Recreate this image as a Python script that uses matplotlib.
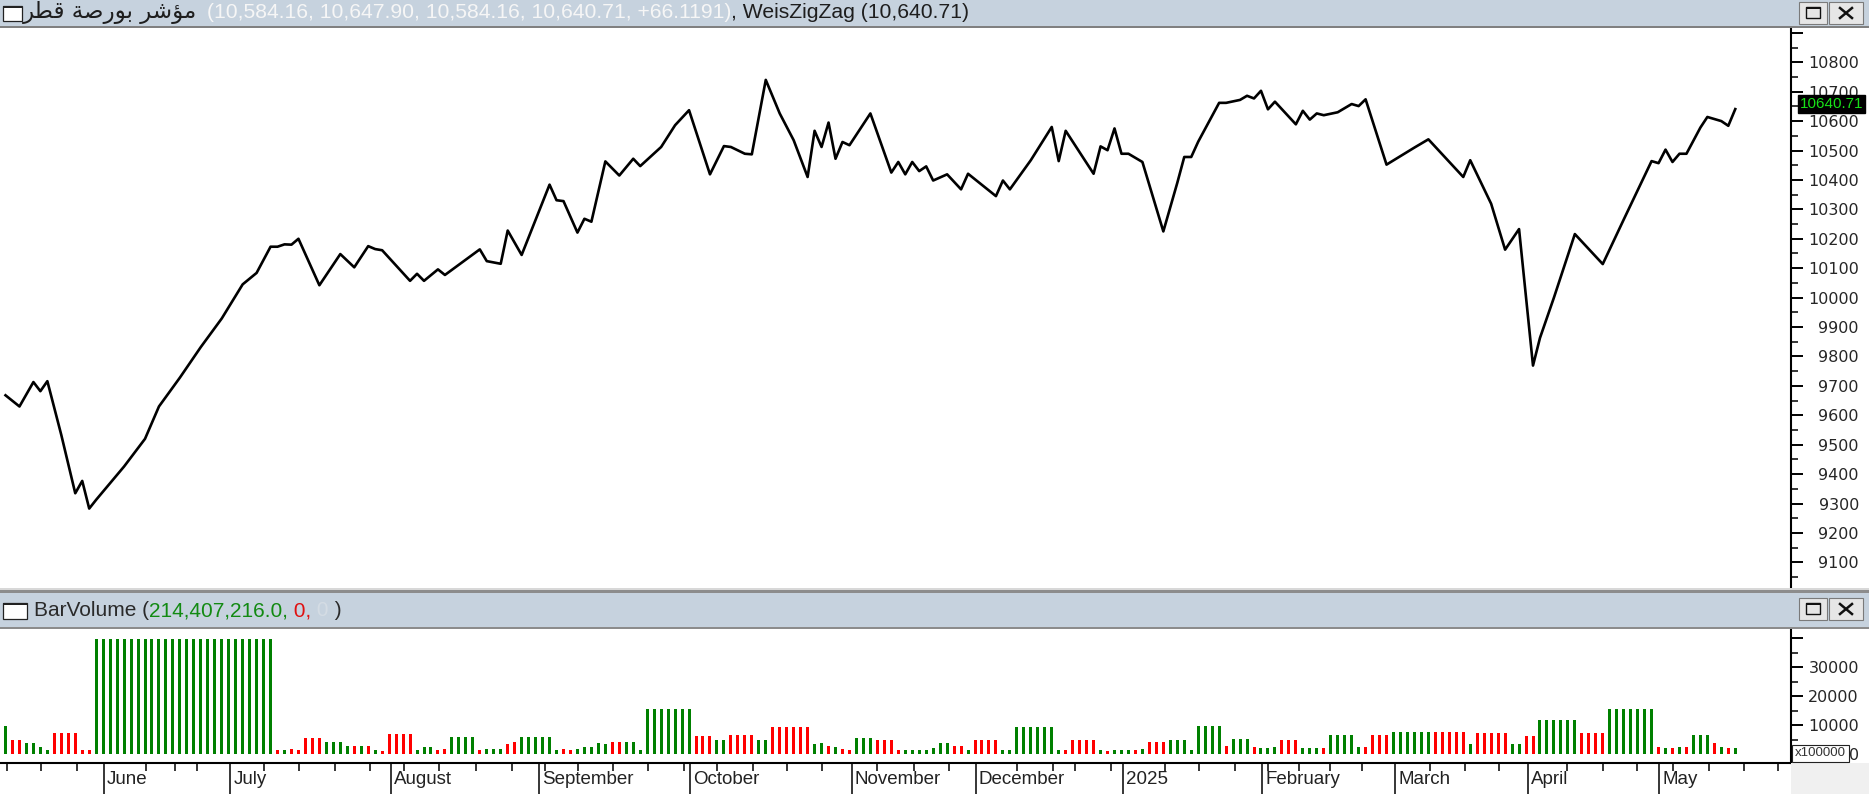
import numpy as np
import matplotlib
matplotlib.use('Agg')
import matplotlib.pyplot as plt
from matplotlib.patches import Rectangle
from matplotlib.lines import Line2D
from matplotlib.ticker import MultipleLocator, FixedLocator
from matplotlib import font_manager

# ---- data -------------------------------------------------------------
# WeisZigZag swing points: bar number and index level
zz_bar = [0, 2, 4, 5, 6, 8, 10, 11, 12, 13, 17, 20, 22, 25, 28, 31, 34, 36, 38, 39,
          40, 41, 42, 45, 48, 50, 52, 53, 54, 58, 59, 60, 62, 63, 68, 69, 71, 72, 74, 78,
          79, 80, 82, 83, 84, 86, 88, 90, 91, 94, 96, 98, 101, 103, 104, 106, 107, 109, 111, 113,
          115, 116, 117, 118, 119, 120, 121, 124, 127, 128, 129, 130, 131, 132, 133, 135, 137, 138, 142, 143,
          144, 147, 150, 151, 152, 156, 157, 158, 159, 160, 161, 163, 166, 168, 169, 170, 171, 174, 175, 177,
          178, 179, 180, 181, 182, 185, 186, 187, 188, 189, 191, 193, 194, 195, 198, 202, 204, 209, 210, 213,
          215, 217, 219, 220, 222, 225, 229, 232, 236, 237, 238, 239, 240, 241, 243, 244, 246, 247, 248]
zz_val = [9668, 9630, 9713, 9682, 9716, 9533, 9335, 9377, 9283, 9313, 9426, 9520, 9630, 9728, 9832, 9929, 10045, 10084, 10173, 10173,
          10181, 10180, 10200, 10042, 10148, 10103, 10175, 10165, 10161, 10057, 10081, 10057, 10096, 10077, 10164, 10124, 10115, 10228, 10145, 10384,
          10331, 10328, 10221, 10268, 10258, 10463, 10415, 10472, 10447, 10512, 10586, 10637, 10419, 10515, 10512, 10489, 10487, 10740, 10626, 10535,
          10410, 10567, 10512, 10595, 10472, 10529, 10518, 10626, 10425, 10461, 10419, 10461, 10430, 10446, 10398, 10419, 10368, 10421, 10345, 10398,
          10368, 10467, 10580, 10464, 10567, 10421, 10514, 10501, 10575, 10489, 10489, 10461, 10225, 10390, 10478, 10478, 10530, 10662, 10662, 10672,
          10686, 10677, 10703, 10640, 10666, 10589, 10635, 10605, 10626, 10620, 10630, 10658, 10651, 10674, 10452, 10510, 10538, 10410, 10467, 10319,
          10163, 10233, 9769, 9863, 10000, 10216, 10114, 10265, 10464, 10457, 10503, 10461, 10489, 10489, 10578, 10614, 10600, 10584, 10640.71]

# BarVolume: runs of equal bars (number of bars, height in x100000, 1 = up wave)
vol_run = [1, 2, 2, 1, 1, 4, 2, 26, 1, 1, 1, 1, 3, 3, 1, 1, 1, 1, 1, 1,
           4, 1, 2, 1, 1, 4, 1, 3, 1, 1, 5, 1, 1, 1, 1, 1, 1, 1, 1, 2,
           2, 1, 7, 3, 2, 4, 2, 6, 1, 1, 1, 1, 1, 1, 3, 3, 1, 4, 1, 2,
           2, 1, 4, 2, 6, 1, 1, 4, 1, 1, 3, 1, 1, 3, 3, 1, 4, 1, 3, 1,
           2, 1, 3, 3, 1, 4, 1, 1, 3, 6, 5, 1, 5, 2, 2, 6, 4, 7, 1, 1,
           1, 1, 1, 3, 1, 1, 1, 1]
vol_height = [9750, 5000, 4000, 2600, 1500, 7200, 1400, 39800, 1500, 1500, 1800, 1500, 5600, 4200, 3000, 2800, 3000, 2800, 1500, 1200,
              7000, 1500, 2500, 1500, 1800, 6000, 1500, 1800, 3500, 4300, 6000, 1500, 1800, 1500, 1800, 2500, 2500, 3800, 3500, 4300,
              4300, 1500, 15600, 6200, 4800, 6700, 4800, 9300, 3400, 3800, 2700, 2500, 1800, 1500, 5600, 5100, 1500, 1500, 2000, 3800,
              2700, 1500, 4800, 1500, 9300, 1500, 1500, 5000, 1500, 1300, 1500, 1500, 1800, 4200, 4900, 1500, 9800, 2700, 5300, 2500,
              2000, 2600, 5000, 2000, 2000, 6800, 2600, 2600, 6600, 7800, 7800, 3400, 7200, 3400, 6200, 11800, 7200, 15600, 2600, 2000,
              2000, 2600, 2600, 6800, 3800, 2600, 2300, 2144]
vol_up = [1, 0, 1, 1, 1, 0, 0, 1, 0, 1, 0, 0, 0, 1, 1, 0, 1, 0, 1, 0,
          0, 1, 1, 0, 0, 1, 0, 1, 0, 0, 1, 1, 0, 0, 1, 1, 1, 1, 1, 0,
          1, 1, 1, 0, 1, 0, 1, 0, 1, 1, 0, 1, 0, 0, 1, 0, 0, 1, 1, 1,
          0, 1, 0, 1, 1, 1, 0, 0, 1, 0, 1, 0, 1, 0, 1, 1, 1, 0, 1, 0,
          1, 1, 0, 1, 0, 1, 1, 0, 0, 1, 0, 1, 0, 1, 0, 1, 0, 1, 0, 1,
          0, 1, 0, 1, 0, 1, 0, 1]

month_bar = [14.1, 32.2, 55.2, 76.5, 98.2, 121.3, 139.1, 160.2, 180.2, 199.2, 218.3, 237.1]
month_name = ['June', 'July', 'August', 'September', 'October', 'November',
              'December', '2025', 'February', 'March', 'April', 'May']
week_bar = [0.2, 5.1, 10.3, 20.1, 24.3, 27.4, 37.1, 42.1, 47.3, 52.3, 57.1, 62.2, 67.4, 72.6,
            77.3, 82.1, 87.1, 92.1, 97.3, 102, 107.2, 112.1, 117.1, 125, 130.2, 135.2, 145,
            150.2, 153.3, 158.5, 166.2, 171.1, 176.3, 181, 185.4, 189.9, 194.5, 204.3, 209.2,
            214.1, 223.9, 229.1, 233.9, 239.1, 244.3, 249.2, 254.1]

title_ar = 'مؤشر بورصة قطر'
ohlc_text = '(10,584.16, 10,647.90, 10,584.16, 10,640.71, +66.1191)'
zz_text = ', WeisZigZag (10,640.71)'
vol_parts = [('BarVolume (', '#2a2a2a'), ('214,407,216.0,', '#128a12'),
             (' 0,', '#e01010'), (' 0', '#d4dce4'), (' )', '#2a2a2a')]
last_close = 10640.71

# ---- arabic: matplotlib does no shaping, so pick presentation forms ---
AR_FORMS = {
    'م': ('\uFEE1', '\uFEE2', '\uFEE3', '\uFEE4'),
    'ؤ': ('\uFE85', '\uFE86', None, None),
    'ش': ('\uFEB5', '\uFEB6', '\uFEB7', '\uFEB8'),
    'ر': ('\uFEAD', '\uFEAE', None, None),
    'ب': ('\uFE8F', '\uFE90', '\uFE91', '\uFE92'),
    'و': ('\uFEED', '\uFEEE', None, None),
    'ص': ('\uFEB9', '\uFEBA', '\uFEBB', '\uFEBC'),
    'ة': ('\uFE93', '\uFE94', None, None),
    'ق': ('\uFED5', '\uFED6', '\uFED7', '\uFED8'),
    'ط': ('\uFEC1', '\uFEC2', '\uFEC3', '\uFEC4'),
}


def shape_arabic(s):
    out = []
    for i, c in enumerate(s):
        if c not in AR_FORMS:
            out.append(c)
            continue
        iso, fin, ini, med = AR_FORMS[c]
        prev = s[i - 1] if i > 0 else ''
        nxt = s[i + 1] if i + 1 < len(s) else ''
        jp = prev in AR_FORMS and AR_FORMS[prev][2] is not None
        jn = nxt in AR_FORMS and ini is not None
        if jp and jn:
            out.append(med)
        elif jp:
            out.append(fin)
        elif jn:
            out.append(ini)
        else:
            out.append(iso)
    return ''.join(out)[::-1]


# ---- figure ------------------------------------------------------------
W, H = 1869, 794
HDR = '#c6d2de'
SANS = 'Liberation Sans'
names = {f.name for f in font_manager.fontManager.ttflist}
NARROW = 'Liberation Sans Narrow' if 'Liberation Sans Narrow' in names else SANS

plt.rcParams['font.family'] = 'DejaVu Sans'
fig = plt.figure(figsize=(W / 100, H / 100), dpi=100, facecolor='white')
renderer = fig.canvas.get_renderer()


def box(x0, y0, x1, y1, fc, ec='none', lw=0.0):
    fig.add_artist(Rectangle((x0 / W, 1 - y1 / H), (x1 - x0) / W, (y1 - y0) / H,
                             transform=fig.transFigure, fc=fc, ec=ec, lw=lw))


def seg(x0, y0, x1, y1, color, lw):
    fig.add_artist(Line2D([x0 / W, x1 / W], [1 - y0 / H, 1 - y1 / H],
                          transform=fig.transFigure, color=color, lw=lw))


def ftext(x, y, s, **kw):
    return fig.text(x / W, 1 - y / H, s, **kw)


def chain(x, y, parts, **kw):
    for s, col in parts:
        t = ftext(x, y, s, color=col, ha='left', va='center', **kw)
        x = t.get_window_extent(renderer).x1
    return x


def buttons(top):
    box(1799, top, 1827, top + 22, '#e6e6e6', '#7a7a7a', 0.8)
    box(1829, top, 1863, top + 22, '#e6e6e6', '#7a7a7a', 0.8)
    box(1806, top + 5, 1820, top + 16, 'none', '#111111', 1.0)
    box(1806, top + 5, 1820, top + 7, '#111111')
    seg(1840, top + 6, 1852, top + 16, '#111111', 1.8)
    seg(1840, top + 16, 1852, top + 6, '#111111', 1.8)


def checkbox(x0, y0, x1, y1):
    box(x0, y0, x1, y1, 'white', '#222222', 0.9)
    box(x0, y0, x1, y0 + 2, '#222222')


# window chrome
box(0, 0, W, 26, HDR)
box(0, 26, W, 28, '#808080')
box(0, 588, W, 590, '#d8d8d8')
box(0, 590, W, 593, '#8c8c8c')
box(0, 593, W, 627, HDR)
box(0, 627, W, 629, '#8c8c8c')
box(1791, 763, W, H, '#f0f0f0')
buttons(2)
buttons(598)
checkbox(3, 6, 22, 21)
checkbox(3, 603, 27, 619)

ftext(23, 13, shape_arabic(title_ar), color='#1e1e1e', fontsize=16.5,
      family=['DejaVu Sans'], ha='left', va='center')
chain(207, 13, [(ohlc_text, '#f6f6f6'), (zz_text, '#1e1e1e')], fontsize=15.2, family=SANS)
chain(34, 611, vol_parts, fontsize=15, family=SANS)

# ---- price panel -------------------------------------------------------
XL, XR = -0.79, 255.99
axp = fig.add_axes([0, 1 - 588 / H, 1791 / W, (588 - 29) / H])
axp.plot(zz_bar, zz_val, color='black', lw=1.9)
axp.set_xlim(XL, XR)
axp.set_ylim(9013, 10913)
for s in ['left', 'top', 'bottom']:
    axp.spines[s].set_visible(False)
axp.spines['right'].set_linewidth(1.5)
axp.tick_params(axis='x', bottom=False, labelbottom=False)
axp.yaxis.tick_right()
price_ticks = np.arange(9100, 10901, 100)
axp.set_yticks(price_ticks)
axp.set_yticklabels([str(v) if v <= 10800 else '' for v in price_ticks])
axp.yaxis.set_minor_locator(MultipleLocator(50))
axp.tick_params(axis='y', which='major', length=8.6, width=1.4, pad=40.3,
                labelsize=11.5, labelcolor='#262626')
axp.tick_params(axis='y', which='minor', length=5, width=1.1)
for t in axp.get_yticklabels():
    t.set_ha('right')

axp.annotate(f'{last_close:.2f}', xy=(1, last_close), xycoords=('axes fraction', 'data'),
             xytext=(9, 5), textcoords='offset pixels', ha='left', va='center',
             color='#18e018', fontsize=13 if NARROW != SANS else 11, family=NARROW,
             bbox=dict(boxstyle='square,pad=0.12', fc='black', ec='black'),
             annotation_clip=False, zorder=10)

# ---- volume panel ------------------------------------------------------
vol = np.repeat(vol_height, vol_run)
up = np.repeat(vol_up, vol_run)
bars = np.arange(len(vol))
axv = fig.add_axes([0, 1 - 763 / H, 1791 / W, (763 - 629) / H])
axv.bar(bars, vol, width=0.43, color=np.where(up == 1, '#008000', '#ff0000'),
        linewidth=0, antialiased=False)
axv.set_xlim(XL, XR)
axv.set_ylim(-3000, 43200)
for s in ['left', 'top']:
    axv.spines[s].set_visible(False)
axv.spines['right'].set_linewidth(1.5)
axv.spines['bottom'].set_linewidth(1.5)
axv.yaxis.tick_right()
axv.set_yticks([0, 10000, 20000, 30000, 40000])
axv.set_yticklabels(['0', '10000', '20000', '30000', ''])
axv.yaxis.set_minor_locator(MultipleLocator(5000))
axv.tick_params(axis='y', which='major', length=8.6, width=1.4, pad=40.3,
                labelsize=11.5, labelcolor='#262626')
axv.tick_params(axis='y', which='minor', length=5, width=1.1)
for t in axv.get_yticklabels():
    t.set_ha('right')

axv.set_xticks(month_bar)
axv.xaxis.set_minor_locator(FixedLocator(week_bar))
axv.tick_params(axis='x', which='major', length=22.3, width=1.1, labelbottom=False)
axv.tick_params(axis='x', which='minor', length=5.8, width=1.1)
for pos, name in zip(month_bar, month_name):
    axv.text(pos + 0.45, -0.125, name, transform=axv.get_xaxis_transform(),
             ha='left', va='center', fontsize=13.5, family=SANS, color='#222222')

ftext(1795, 753.5, 'x100000', fontsize=9.5, family=SANS, color='#333333',
      ha='left', va='center',
      bbox=dict(boxstyle='square,pad=0.22', fc='white', ec='#222222', lw=0.8))

fig.savefig('out.png', dpi=100, facecolor='white')
